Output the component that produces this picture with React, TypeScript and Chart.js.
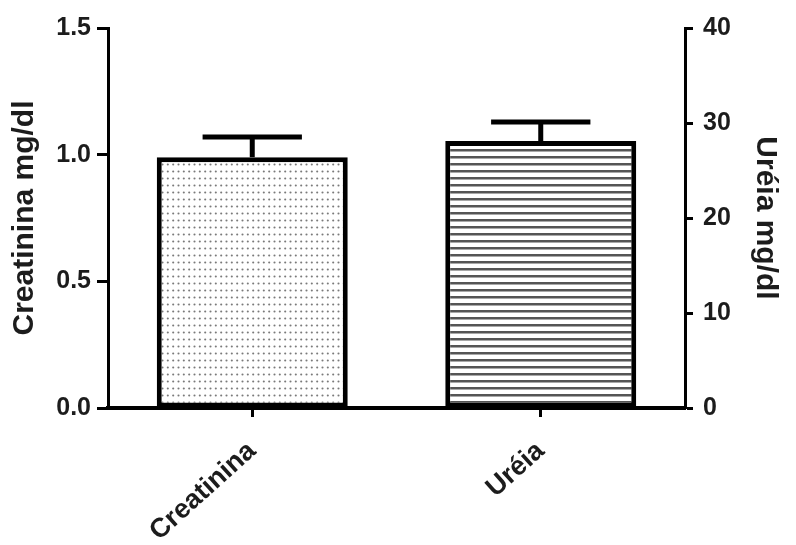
import React, { useEffect, useRef } from "react";
import { Chart, registerables } from "chart.js";

Chart.register(...registerables);

const categories = ["Creatinina", "Uréia"];
const creatininaValues = [0.99, null];
const creatininaErrors = [0.08, null];
const ureiaValues = [null, 28.1];
const ureiaErrors = [null, 2.0];
const leftTicks = [0, 0.5, 1.0, 1.5];
const rightTicks = [0, 10, 20, 30, 40];
const leftTitle = "Creatinina mg/dl";
const rightTitle = "Uréia mg/dl";

const FONT = "'Liberation Sans', Arial, Helvetica, sans-serif";
const TEXT = "#1c1c1c";

function dotPattern(): CanvasPattern | string {
  const c = document.createElement("canvas");
  c.width = 16;
  c.height = 7;
  const g = c.getContext("2d");
  if (!g) return "#fff";
  g.fillStyle = "#ffffff";
  g.fillRect(0, 0, 16, 7);
  g.fillStyle = "#7a7a7a";
  [2.5, 7.8, 13.2].forEach((x) => {
    g.beginPath();
    g.arc(x, 3.5, 1.05, 0, Math.PI * 2);
    g.fill();
  });
  return g.createPattern(c, "repeat") || "#fff";
}

function linePattern(): CanvasPattern | string {
  const c = document.createElement("canvas");
  c.width = 8;
  c.height = 7;
  const g = c.getContext("2d");
  if (!g) return "#fff";
  g.fillStyle = "#ffffff";
  g.fillRect(0, 0, 8, 7);
  g.fillStyle = "#555555";
  g.fillRect(0, 2, 8, 2);
  g.fillStyle = "#a8a8a8";
  g.fillRect(0, 4, 8, 1);
  return g.createPattern(c, "repeat") || "#fff";
}

const errorBarPlugin = {
  id: "errorBars",
  afterDatasetsDraw(chart: any) {
    const ctx = chart.ctx;
    chart.data.datasets.forEach((ds: any, i: number) => {
      const meta = chart.getDatasetMeta(i);
      const scale = chart.scales[ds.yAxisID];
      meta.data.forEach((el: any, j: number) => {
        const v = ds.data[j];
        const e = ds.errors ? ds.errors[j] : null;
        if (v == null || e == null) return;
        const yTop = scale.getPixelForValue(v + e);
        const yBar = scale.getPixelForValue(v);
        const half = el.width * 0.26;
        ctx.save();
        ctx.strokeStyle = "#000";
        ctx.lineWidth = 5;
        ctx.lineCap = "butt";
        ctx.beginPath();
        ctx.moveTo(el.x, yBar);
        ctx.lineTo(el.x, yTop);
        ctx.stroke();
        ctx.beginPath();
        ctx.moveTo(el.x - half, yTop);
        ctx.lineTo(el.x + half, yTop);
        ctx.stroke();
        ctx.restore();
      });
    });
  },
};

export default function App() {
  const ref = useRef<HTMLCanvasElement | null>(null);

  useEffect(() => {
    document.body.style.margin = "0";
    const canvas = ref.current;
    if (!canvas) return;
    const chart = new Chart(canvas, {
      type: "bar",
      data: {
        labels: categories,
        datasets: [
          {
            label: "Creatinina",
            data: creatininaValues,
            errors: creatininaErrors,
            yAxisID: "y",
            backgroundColor: dotPattern(),
            borderColor: "#000",
            borderWidth: 5,
            borderSkipped: false,
          } as any,
          {
            label: "Uréia",
            data: ureiaValues,
            errors: ureiaErrors,
            yAxisID: "y1",
            backgroundColor: linePattern(),
            borderColor: "#000",
            borderWidth: 5,
            borderSkipped: false,
          } as any,
        ],
      },
      options: {
        animation: false,
        responsive: false,
        events: [],
        layout: { padding: { top: 28, left: 0, right: 0, bottom: 0 } },
        plugins: {
          legend: { display: false },
          tooltip: { enabled: false },
        },
        datasets: {
          bar: { grouped: false, categoryPercentage: 1, barPercentage: 0.662 },
        },
        scales: {
          x: {
            type: "category",
            offset: true,
            grid: {
              display: true,
              drawOnChartArea: false,
              drawTicks: true,
              tickLength: 9,
              tickWidth: 3,
              tickColor: "#000",
              offset: false,
            },
            border: { display: true, color: "#000", width: 4 },
            ticks: {
              color: TEXT,
              font: { family: FONT, size: 27, weight: "bold" },
              minRotation: 42,
              maxRotation: 42,
              padding: 18,
              autoSkip: false,
            },
            afterFit: (s: any) => {
              s.height = 137;
            },
          },
          y: {
            position: "left",
            min: 0,
            max: 1.5,
            afterBuildTicks: (s: any) => {
              s.ticks = leftTicks.map((value) => ({ value }));
            },
            grid: {
              display: true,
              drawOnChartArea: false,
              drawTicks: true,
              tickLength: 11,
              tickWidth: 3,
              tickColor: "#000",
            },
            border: { display: true, color: "#000", width: 3 },
            ticks: {
              color: TEXT,
              font: { family: FONT, size: 25, weight: "bold" },
              padding: 6,
              callback: (v: any) => Number(v).toFixed(1),
            },
            title: {
              display: true,
              text: leftTitle,
              color: TEXT,
              font: { family: FONT, size: 30, weight: "bold" },
              padding: { top: 7, bottom: 0 },
            },
            afterFit: (s: any) => {
              s.width = 108;
            },
          },
          y1: {
            position: "right",
            min: 0,
            max: 40,
            afterBuildTicks: (s: any) => {
              s.ticks = rightTicks.map((value) => ({ value }));
            },
            grid: {
              display: true,
              drawOnChartArea: false,
              drawTicks: true,
              tickLength: 8,
              tickWidth: 3,
              tickColor: "#000",
            },
            border: { display: true, color: "#000", width: 3 },
            ticks: {
              color: TEXT,
              font: { family: FONT, size: 25, weight: "bold" },
              padding: 10,
            },
            title: {
              display: true,
              text: rightTitle,
              color: TEXT,
              font: { family: FONT, size: 30, weight: "bold" },
              padding: { top: 13, bottom: 0 },
            },
            afterFit: (s: any) => {
              s.width = 111;
            },
          },
        },
      } as any,
      plugins: [errorBarPlugin],
    });
    return () => chart.destroy();
  }, []);

  return (
    <div
      style={{
        position: "fixed",
        left: 0,
        top: 0,
        width: 796,
        height: 545,
        background: "#fff",
      }}
    >
      <canvas ref={ref} width={796} height={545} style={{ display: "block" }} />
    </div>
  );
}
